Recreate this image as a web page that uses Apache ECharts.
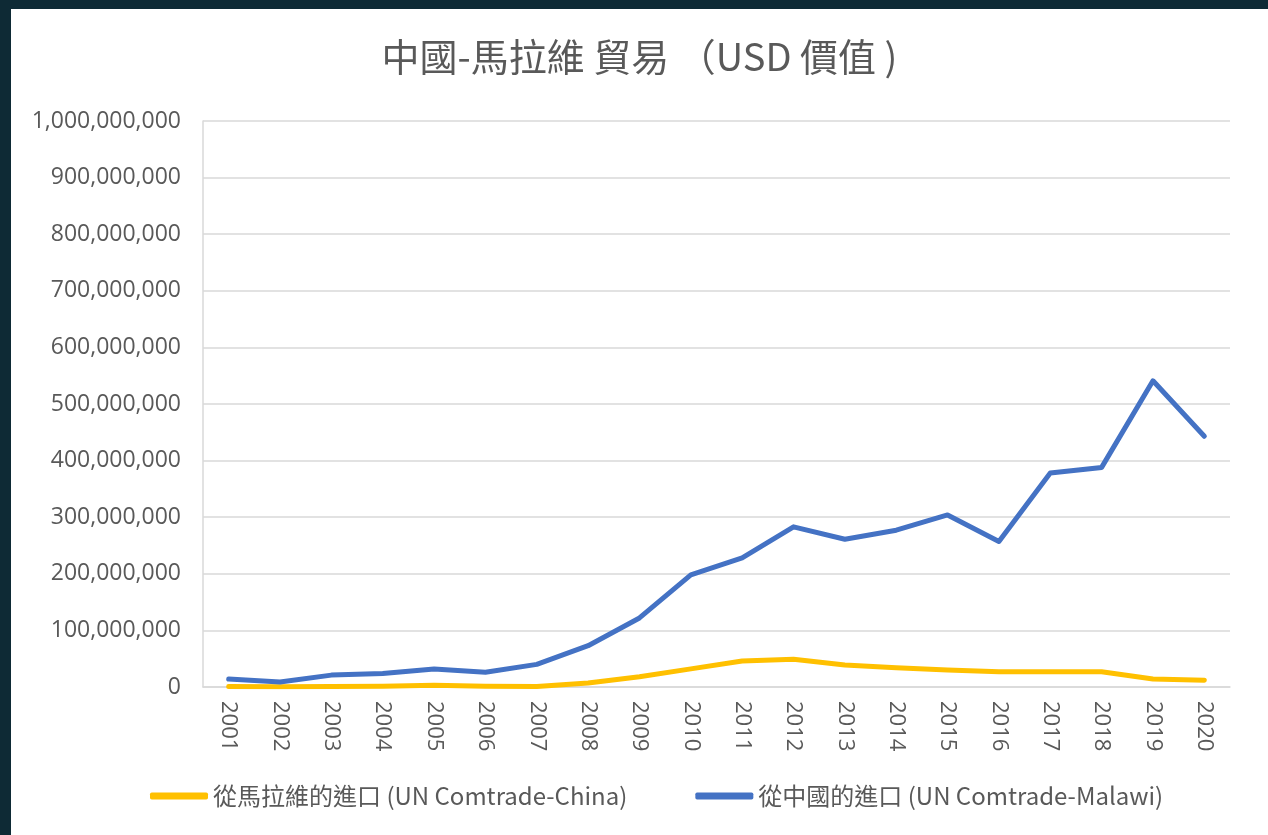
<!DOCTYPE html>
<html>
<head>
<meta charset="utf-8">
<script src="https://cdn.jsdelivr.net/npm/echarts@6/dist/echarts.min.js"></script>
<style>
html,body{margin:0;padding:0;width:1268px;height:835px;background:#0e2a35;overflow:hidden;}
#chart{position:absolute;left:11px;top:9px;width:1257px;height:826px;background:#ffffff;}
</style>
</head>
<body>
<div id="chart"></div>
<script>
const titleText = "中國-馬拉維 貿易 （USD 價值 )";
const years = ["2001","2002","2003","2004","2005","2006","2007","2008","2009","2010","2011","2012","2013","2014","2015","2016","2017","2018","2019","2020"];
const seriesNames = ["從馬拉維的進口 (UN Comtrade-China)", "從中國的進口 (UN Comtrade-Malawi)"];
const importsFromMalawi = [1000000, 500000, 1000000, 1500000, 3000000, 1500000, 1000000, 7000000, 18000000, 32000000, 46000000, 49000000, 39000000, 34000000, 30000000, 27000000, 27000000, 27000000, 14000000, 12000000];
const importsFromChina = [14000000, 9000000, 21000000, 24000000, 32000000, 26000000, 40000000, 73000000, 122000000, 198000000, 228000000, 283000000, 261000000, 277000000, 304000000, 257000000, 378000000, 388000000, 541000000, 443000000];
const yTicks = {min: 0, max: 1000000000, interval: 100000000};

const chart = echarts.init(document.getElementById('chart'), null, {renderer: 'canvas'});
const latin = "'Open Sans', 'Noto Sans CJK TC', sans-serif";
chart.setOption({
  animation: false,
  backgroundColor: '#ffffff',
  title: {
    text: titleText,
    left: 'center',
    top: 24,
    textStyle: {fontFamily: "'Noto Sans CJK TC', 'Open Sans', sans-serif", fontSize: 38, fontWeight: 'normal', color: '#595959'}
  },
  legend: {
    bottom: 22,
    left: 134,
    itemWidth: 58,
    itemHeight: 7,
    itemGap: 68,
    icon: 'roundRect',
    textStyle: {fontFamily: "'Noto Sans CJK TC', sans-serif", fontSize: 24, color: '#595959'},
    data: seriesNames
  },
  grid: {left: 192, right: 38, top: 112, bottom: 148, containLabel: false},
  xAxis: {
    type: 'category',
    data: years,
    boundaryGap: true,
    axisLine: {show: true, lineStyle: {color: '#d9d9d9', width: 1.5}},
    axisTick: {show: false},
    axisLabel: {rotate: -90, margin: 14, fontFamily: latin, fontSize: 22, color: '#595959'}
  },
  yAxis: {
    type: 'value',
    min: yTicks.min,
    max: yTicks.max,
    interval: yTicks.interval,
    axisLine: {show: true, lineStyle: {color: '#d9d9d9', width: 1.5}},
    axisTick: {show: false},
    splitLine: {lineStyle: {color: '#d9d9d9', width: 1.5}},
    axisLabel: {margin: 22, fontFamily: latin, fontSize: 23, color: '#595959',
      formatter: v => v.toLocaleString('en-US')}
  },
  series: [
    {name: seriesNames[0], type: 'line', data: importsFromMalawi, symbol: 'none', color: '#FFC000',
     lineStyle: {width: 5, color: '#FFC000', cap: 'round', join: 'round'}},
    {name: seriesNames[1], type: 'line', data: importsFromChina, symbol: 'none', color: '#4472C4',
     lineStyle: {width: 5, color: '#4472C4', cap: 'round', join: 'round'}}
  ]
});
</script>
</body>
</html>
